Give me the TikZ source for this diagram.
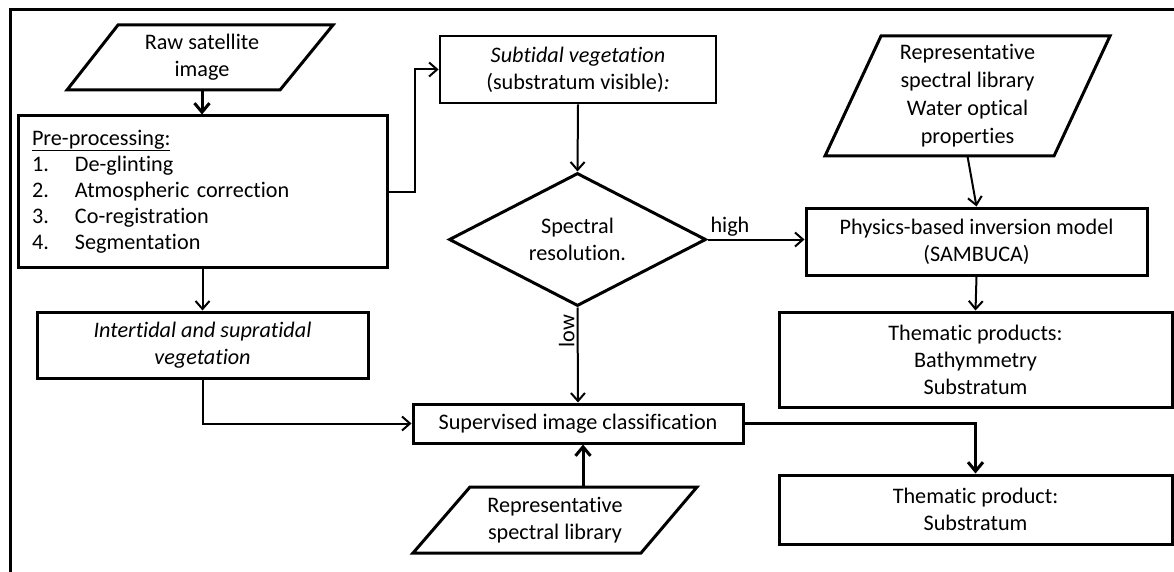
\documentclass[tikz,border=0pt]{standalone}
\usepackage{fontspec}
\setmainfont[Ligatures=NoCommon]{Carlito}
\usetikzlibrary{arrows.meta,shapes.geometric,calc}
\tikzset{
  base/.style={font=\fontsize{22.2}{27}\selectfont, inner sep=0pt, align=center},
  boxnode/.style={base, draw, rectangle, line width=3pt},
  conn/.style={line width=2pt, -{Straight Barb[length=8pt,width=14pt]}},
  thickconn/.style={line width=3pt, -{Straight Barb[length=9pt,width=15pt]}},
  parabox/.style={line width=3pt, line join=miter},
  labelnode/.style={font=\fontsize{22.2}{27}\selectfont, inner sep=2pt}
}
\begin{document}
\begin{tikzpicture}[x=1pt,y=-1pt]
\useasboundingbox (0,0) rectangle (1174,572);
% frame
\draw[line width=3pt] (10,572) -- (10,10) -- (1174,10);

% raw satellite image
\draw[parabox] (118,25) -- (333,25) -- (280,90) -- (67,90) -- cycle;
\node[base, minimum width=150pt, minimum height=65pt] (raw) at (202,57.5) {Raw satellite\\image};

% pre-processing
\node[boxnode, minimum width=369pt, minimum height=151pt, text width=341pt, inner xsep=14pt, inner ysep=0pt, align=left, font=\fontsize{22.2}{26}\selectfont] (pre) at (202.5,191.5)
 {\underline{Pre-processing:}\\
  \makebox[43pt][l]{1.}De-glinting\\
  \makebox[43pt][l]{2.}Atmospheric correction\\
  \makebox[43pt][l]{3.}Co-registration\\
  \makebox[43pt][l]{4.}Segmentation};

% subtidal
\node[boxnode, line width=2.8pt, minimum width=276pt, minimum height=67pt] (sub) at (578,69.5)
 {\textit{Subtidal vegetation}\\(substratum visible)\textit{:}};

% diamond
\node[base, draw, diamond, line width=3pt, minimum width=257pt, minimum height=133pt, shape aspect=1.93] (dia) at (577.5,239.5) {Spectral\\resolution.};

% intertidal
\node[boxnode, minimum width=331pt, minimum height=66pt, font=\fontsize{22.2}{27}\selectfont\itshape] (int) at (202.5,345) {Intertidal and supratidal\\vegetation};

% supervised
\node[boxnode, minimum width=330pt, minimum height=39pt] (sup) at (578,423.5) {Supervised image classification};

% bottom library
\draw[parabox] (470,487) -- (697,487) -- (641,553) -- (413,553) -- cycle;
\node[base, minimum width=150pt, minimum height=66pt] (lib2) at (555,520) {Representative\\spectral library};

% top-right library
\draw[parabox] (881,36) -- (1110,36) -- (1054,156) -- (825,156) -- cycle;
\node[base, minimum width=160pt, minimum height=120pt, font=\fontsize{22.2}{28}\selectfont] (lib1) at (967.5,96) {Representative\\spectral library\\Water optical\\properties};

% physics
\node[boxnode, minimum width=341pt, minimum height=67pt] (phys) at (976.5,241.5) {Physics-based inversion model\\(SAMBUCA)};

% thematic products
\node[boxnode, minimum width=393pt, minimum height=95pt] (tps) at (975.5,359.5) {Thematic products:\\Bathymmetry\\Substratum};
\node[boxnode, minimum width=393pt, minimum height=69pt] (tp) at (975.5,509.5) {Thematic product:\\Substratum};

% connectors
\draw[thickconn] (raw.south) -- (raw.south |- pre.north);
\draw[conn] (pre.east) -- ++(26pt,0) |- (sub.west);
\draw[conn] (sub.south) -- (dia.north);
\draw[conn] (dia.east) -- (dia.east -| phys.west)
  node[labelnode, pos=0, anchor=south west] {high};
\draw[conn] (dia.south) -- (sup.north)
  node[labelnode, pos=0.25, rotate=90, anchor=south] {low};
\draw[conn] (pre.south) -- (int.north);
\draw[conn] (int.south) |- (sup.west);
\draw[thickconn] ([xshift=28pt]lib2.north) -- ([xshift=28pt]lib2.north |- sup.south);
\draw[thickconn] (sup.east) -| (tp.north);
\draw[conn] (lib1.south) -- (phys.north);
\draw[conn] (phys.south) -- (tps.north);
\end{tikzpicture}
\end{document}
